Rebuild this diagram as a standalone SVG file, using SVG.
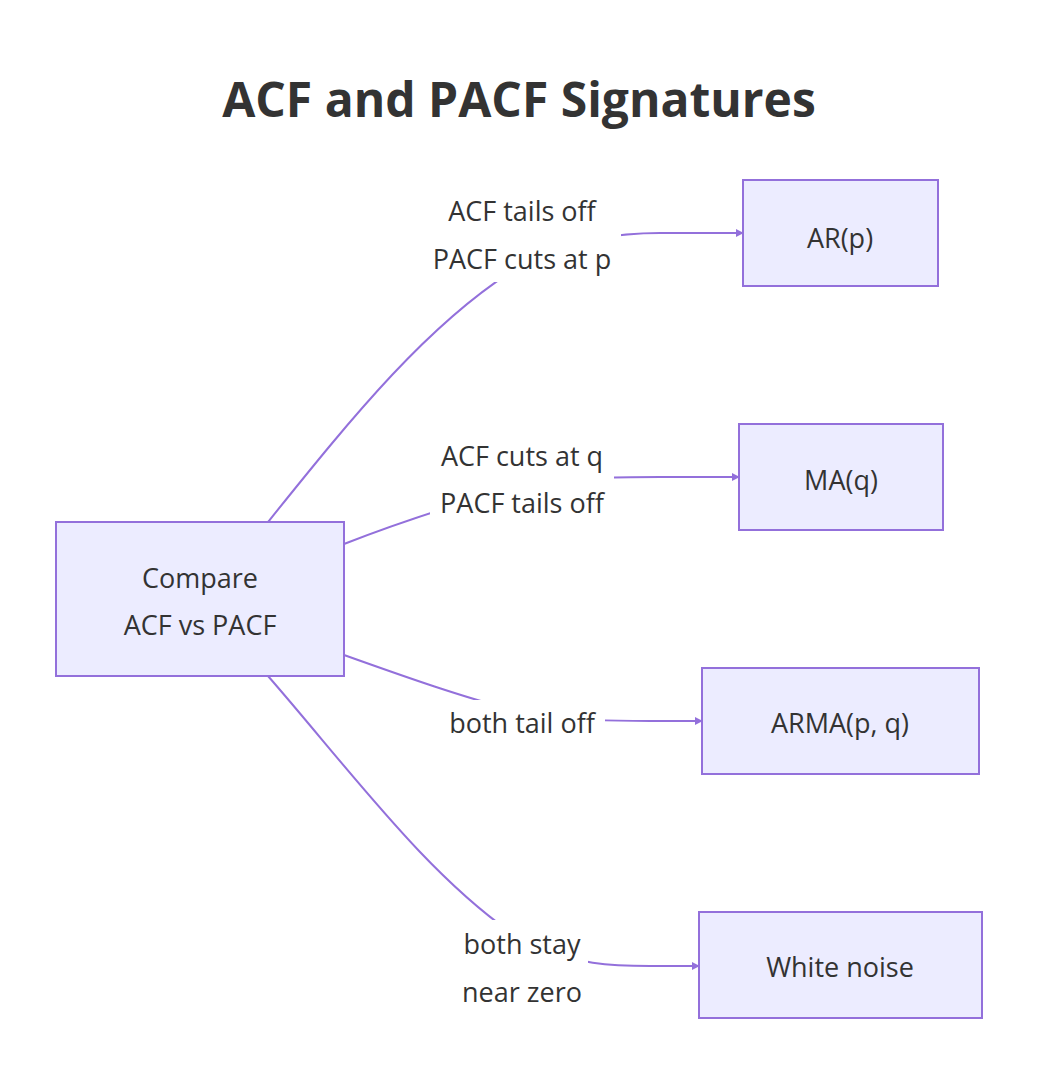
<svg xmlns="http://www.w3.org/2000/svg" width="1054" height="1090" viewBox="0 0 1054 1090">
<style>
.node rect{fill:#ECECFF;stroke:#9370DB;stroke-width:2}
.t{font-family:"Open Sans","Liberation Sans",sans-serif;font-size:27px;fill:#333;text-anchor:middle;dominant-baseline:central}
.e{fill:none;stroke:#9370DB;stroke-width:2}
.lb{fill:#fff}
</style>
<defs><marker id="a" viewBox="0 0 10 10" refX="9" refY="5" markerWidth="8" markerHeight="8" markerUnits="userSpaceOnUse" orient="auto"><path d="M0,0L10,5L0,10z" fill="#9370DB"/></marker></defs>
<rect width="1054" height="1090" fill="#fff"/>
<text x="519" y="98" font-family="'Open Sans','Liberation Sans',sans-serif" font-size="48" font-weight="bold" fill="#333" text-anchor="middle" dominant-baseline="central">ACF and PACF Signatures</text>
<g id="edges">
<path class="e" marker-end="url(#a)" d="M268,522 C350,420 430,320 522,265 C570,238 620,233 660,233 L743,233"/>
<path class="e" marker-end="url(#a)" d="M344,544 C400,522 470,500 522,485 C570,477 620,477 660,477 L739,477"/>
<path class="e" marker-end="url(#a)" d="M344,655 C400,675 470,700 522,712 C570,721 620,721 650,721 L702,721"/>
<path class="e" marker-end="url(#a)" d="M268,676 C350,770 430,880 522,940 C570,966 620,966 650,966 L699,966"/>
<rect class="lb" x="423" y="188" width="198" height="94"/>
<rect class="lb" x="430" y="432" width="184" height="94"/>
<rect class="lb" x="440" y="700" width="165" height="44"/>
<rect class="lb" x="456" y="920" width="132" height="94"/>
<text class="t" x="522" y="210">ACF tails off</text>
<text class="t" x="522" y="258">PACF cuts at p</text>
<text class="t" x="522" y="455">ACF cuts at q</text>
<text class="t" x="522" y="502">PACF tails off</text>
<text class="t" x="522" y="722">both tail off</text>
<text class="t" x="522" y="943">both stay</text>
<text class="t" x="522" y="991">near zero</text>
</g>
<g id="compare" class="node"><rect x="56" y="522" width="288" height="154"/><text class="t" x="200" y="577">Compare</text><text class="t" x="200" y="624">ACF vs PACF</text></g>
<g id="ar" class="node"><rect x="743" y="180" width="195" height="106"/><text class="t" x="840" y="237">AR(p)</text></g>
<g id="ma" class="node"><rect x="739" y="424" width="204" height="106"/><text class="t" x="841" y="479">MA(q)</text></g>
<g id="arma" class="node"><rect x="702" y="668" width="277" height="106"/><text class="t" x="840" y="722">ARMA(p, q)</text></g>
<g id="wn" class="node"><rect x="699" y="912" width="283" height="106"/><text class="t" x="840" y="966">White noise</text></g>
</svg>
